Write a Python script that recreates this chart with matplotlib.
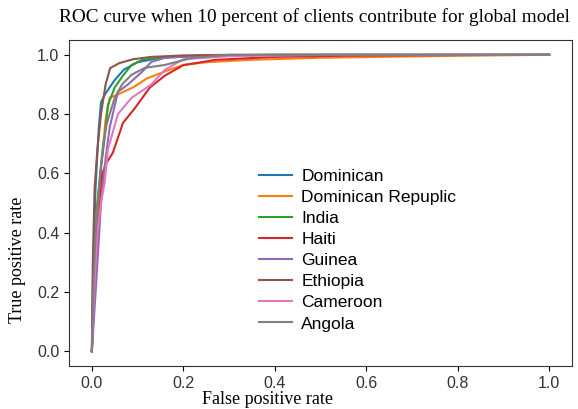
import matplotlib
matplotlib.use('Agg')
import matplotlib.pyplot as plt

# ------ Data ------
countries = ['Dominican', 'Dominican Repuplic', 'India', 'Haiti',
             'Guinea', 'Ethiopia', 'Cameroon', 'Angola']

fpr_dominican = [0, 0.003, 0.008, 0.015, 0.02, 0.03, 0.05, 0.07, 0.1, 0.15, 0.25, 0.4, 1]
tpr_dominican = [0, 0.3, 0.55, 0.75, 0.84, 0.87, 0.915, 0.95, 0.975, 0.99, 0.997, 1.0, 1.0]

fpr_dom_rep = [0, 0.005, 0.012, 0.02, 0.03, 0.039, 0.055, 0.09, 0.12, 0.17, 0.2, 0.25, 0.345, 0.5, 0.8, 1]
tpr_dom_rep = [0, 0.25, 0.45, 0.62, 0.78, 0.855, 0.865, 0.89, 0.92, 0.95, 0.966, 0.975, 0.983, 0.99, 0.997, 1]

fpr_india = [0, 0.005, 0.012, 0.02, 0.028, 0.035, 0.05, 0.068, 0.087, 0.11, 0.16, 0.25, 0.4, 1]
tpr_india = [0, 0.3, 0.5, 0.62, 0.72, 0.83, 0.89, 0.93, 0.966, 0.983, 0.993, 0.998, 1, 1]

fpr_haiti = [0, 0.006, 0.012, 0.018, 0.023, 0.03, 0.046, 0.068, 0.094, 0.127, 0.16, 0.2, 0.27, 0.4, 0.6, 1]
tpr_haiti = [0, 0.2, 0.38, 0.5, 0.6, 0.63, 0.67, 0.77, 0.82, 0.89, 0.93, 0.965, 0.983, 0.993, 0.998, 1]

fpr_guinea = [0, 0.005, 0.013, 0.02, 0.03, 0.039, 0.057, 0.079, 0.11, 0.13, 0.16, 0.25, 1]
tpr_guinea = [0, 0.12, 0.32, 0.5, 0.65, 0.755, 0.875, 0.9, 0.943, 0.976, 0.99, 0.998, 1]

fpr_ethiopia = [0, 0.002, 0.006, 0.012, 0.02, 0.03, 0.04, 0.06, 0.09, 0.13, 0.2, 0.3, 1.0]
tpr_ethiopia = [0, 0.3, 0.55, 0.68, 0.8, 0.9, 0.955, 0.972, 0.985, 0.993, 0.998, 1.0, 1.0]

fpr_cameroon = [0, 0.005, 0.012, 0.02, 0.028, 0.035, 0.057, 0.087, 0.13, 0.16, 0.2, 0.3, 0.5, 1]
tpr_cameroon = [0, 0.2, 0.4, 0.5, 0.57, 0.68, 0.8, 0.855, 0.9, 0.95, 0.985, 0.995, 1, 1]

fpr_angola = [0, 0.004, 0.01, 0.018, 0.025, 0.033, 0.05, 0.066, 0.087, 0.116, 0.16, 0.22, 0.3, 1]
tpr_angola = [0, 0.25, 0.45, 0.6, 0.7, 0.77, 0.855, 0.9, 0.933, 0.956, 0.966, 0.99, 1.0, 1.0]

fprs = [fpr_dominican, fpr_dom_rep, fpr_india, fpr_haiti,
        fpr_guinea, fpr_ethiopia, fpr_cameroon, fpr_angola]
tprs = [tpr_dominican, tpr_dom_rep, tpr_india, tpr_haiti,
        tpr_guinea, tpr_ethiopia, tpr_cameroon, tpr_angola]

# ------ Figure ------
fig = plt.figure(figsize=(5.78, 4.09), dpi=100)
ax = fig.add_axes([69/578, 1 - 366/409, 503/578, 326/409])

for c, x, y in zip(countries, fprs, tprs):
    ax.plot(x, y, label=c, lw=1.5)

ax.set_xticks([0, 0.2, 0.4, 0.6, 0.8, 1.0])
ax.set_yticks([0, 0.2, 0.4, 0.6, 0.8, 1.0])
for lab in ax.get_xticklabels() + ax.get_yticklabels():
    lab.set_fontfamily('Liberation Sans')
    lab.set_fontsize(11.5)
    lab.set_color('#333333')
for s in ax.spines.values():
    s.set_color('#333333')

ax.legend(loc='center left', bbox_to_anchor=(0.346, 0.355), frameon=False,
          prop={'family': 'Liberation Sans', 'size': 12.5},
          labelspacing=0.34, handlelength=1.9, handletextpad=0.55)

fig.text(314/578, 1 - 17/409, 'ROC curve when 10 percent of clients contribute for global model',
         family='Liberation Serif', fontsize=13.9, ha='center', va='center')
fig.text(267/578, 1 - 399/409, 'False positive rate', family='Liberation Serif',
         fontsize=13, ha='center', va='center')
fig.text(18/578, 1 - 260/409, 'True positive rate', family='Liberation Serif',
         fontsize=13, ha='center', va='center', rotation=90)

fig.savefig('out.png', dpi=100)
